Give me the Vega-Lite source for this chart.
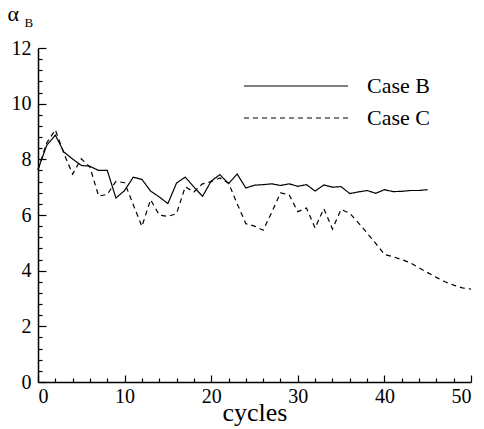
{
  "$schema": "https://vega.github.io/schema/vega-lite/v6.json",
  "width": 433,
  "height": 334,
  "autosize": {"type": "none"},
  "padding": {"left": 38, "top": 48, "right": 13, "bottom": 47},
  "background": "white",
  "config": {
    "view": {"stroke": null},
    "axis": {"grid": false, "domainColor": "black", "domainWidth": 1.5, "tickColor": "black", "tickWidth": 1.2, "labelFont": "Liberation Serif", "labelFontSize": 20, "labelColor": "black", "titleFont": "Liberation Serif", "titleColor": "black", "titleFontWeight": "normal", "labelOverlap": false},
    "legend": {"orient": "none", "title": null, "symbolType": "stroke", "symbolSize": 10816, "symbolStrokeWidth": 1.2, "symbolStrokeColor": "black", "labelFont": "Liberation Serif", "labelFontSize": 22, "labelColor": "black", "labelOffset": 18}
  },
  "data": {"values": [
    {"cycle":0,"alpha":7.63,"case":"Case B"},{"cycle":1,"alpha":8.5,"case":"Case B"},{"cycle":2,"alpha":8.87,"case":"Case B"},{"cycle":3,"alpha":8.26,"case":"Case B"},{"cycle":4,"alpha":8.01,"case":"Case B"},{"cycle":5,"alpha":7.78,"case":"Case B"},{"cycle":6,"alpha":7.75,"case":"Case B"},{"cycle":7,"alpha":7.6,"case":"Case B"},{"cycle":8,"alpha":7.6,"case":"Case B"},{"cycle":9,"alpha":6.61,"case":"Case B"},{"cycle":10,"alpha":6.88,"case":"Case B"},{"cycle":11,"alpha":7.36,"case":"Case B"},{"cycle":12,"alpha":7.28,"case":"Case B"},{"cycle":13,"alpha":6.86,"case":"Case B"},{"cycle":14,"alpha":6.65,"case":"Case B"},{"cycle":15,"alpha":6.41,"case":"Case B"},{"cycle":16,"alpha":7.15,"case":"Case B"},{"cycle":17,"alpha":7.36,"case":"Case B"},{"cycle":18,"alpha":7.01,"case":"Case B"},{"cycle":19,"alpha":6.67,"case":"Case B"},{"cycle":20,"alpha":7.22,"case":"Case B"},{"cycle":21,"alpha":7.45,"case":"Case B"},{"cycle":22,"alpha":7.13,"case":"Case B"},{"cycle":23,"alpha":7.47,"case":"Case B"},{"cycle":24,"alpha":6.97,"case":"Case B"},{"cycle":25,"alpha":7.07,"case":"Case B"},{"cycle":26,"alpha":7.09,"case":"Case B"},{"cycle":27,"alpha":7.12,"case":"Case B"},{"cycle":28,"alpha":7.06,"case":"Case B"},{"cycle":29,"alpha":7.12,"case":"Case B"},{"cycle":30,"alpha":7.03,"case":"Case B"},{"cycle":31,"alpha":7.09,"case":"Case B"},{"cycle":32,"alpha":6.86,"case":"Case B"},{"cycle":33,"alpha":7.08,"case":"Case B"},{"cycle":34,"alpha":7.0,"case":"Case B"},{"cycle":35,"alpha":7.02,"case":"Case B"},{"cycle":36,"alpha":6.77,"case":"Case B"},{"cycle":37,"alpha":6.83,"case":"Case B"},{"cycle":38,"alpha":6.88,"case":"Case B"},{"cycle":39,"alpha":6.78,"case":"Case B"},{"cycle":40,"alpha":6.91,"case":"Case B"},{"cycle":41,"alpha":6.84,"case":"Case B"},{"cycle":42,"alpha":6.85,"case":"Case B"},{"cycle":43,"alpha":6.88,"case":"Case B"},{"cycle":44,"alpha":6.88,"case":"Case B"},{"cycle":45,"alpha":6.91,"case":"Case B"},
    {"cycle":0,"alpha":7.63,"case":"Case C"},{"cycle":1,"alpha":8.59,"case":"Case C"},{"cycle":2,"alpha":9.06,"case":"Case C"},{"cycle":3,"alpha":8.2,"case":"Case C"},{"cycle":4,"alpha":7.47,"case":"Case C"},{"cycle":5,"alpha":8.02,"case":"Case C"},{"cycle":6,"alpha":7.72,"case":"Case C"},{"cycle":7,"alpha":6.68,"case":"Case C"},{"cycle":8,"alpha":6.74,"case":"Case C"},{"cycle":9,"alpha":7.21,"case":"Case C"},{"cycle":10,"alpha":7.16,"case":"Case C"},{"cycle":11,"alpha":6.37,"case":"Case C"},{"cycle":12,"alpha":5.59,"case":"Case C"},{"cycle":13,"alpha":6.55,"case":"Case C"},{"cycle":14,"alpha":6.0,"case":"Case C"},{"cycle":15,"alpha":5.95,"case":"Case C"},{"cycle":16,"alpha":6.05,"case":"Case C"},{"cycle":17,"alpha":7.01,"case":"Case C"},{"cycle":18,"alpha":6.83,"case":"Case C"},{"cycle":19,"alpha":7.12,"case":"Case C"},{"cycle":20,"alpha":7.2,"case":"Case C"},{"cycle":21,"alpha":7.33,"case":"Case C"},{"cycle":22,"alpha":7.15,"case":"Case C"},{"cycle":23,"alpha":6.4,"case":"Case C"},{"cycle":24,"alpha":5.69,"case":"Case C"},{"cycle":25,"alpha":5.6,"case":"Case C"},{"cycle":26,"alpha":5.45,"case":"Case C"},{"cycle":27,"alpha":6.1,"case":"Case C"},{"cycle":28,"alpha":6.79,"case":"Case C"},{"cycle":29,"alpha":6.73,"case":"Case C"},{"cycle":30,"alpha":6.12,"case":"Case C"},{"cycle":31,"alpha":6.25,"case":"Case C"},{"cycle":32,"alpha":5.53,"case":"Case C"},{"cycle":33,"alpha":6.23,"case":"Case C"},{"cycle":34,"alpha":5.5,"case":"Case C"},{"cycle":35,"alpha":6.2,"case":"Case C"},{"cycle":36,"alpha":6.06,"case":"Case C"},{"cycle":37,"alpha":5.72,"case":"Case C"},{"cycle":38,"alpha":5.35,"case":"Case C"},{"cycle":39,"alpha":4.98,"case":"Case C"},{"cycle":40,"alpha":4.58,"case":"Case C"},{"cycle":41,"alpha":4.5,"case":"Case C"},{"cycle":42,"alpha":4.4,"case":"Case C"},{"cycle":43,"alpha":4.28,"case":"Case C"},{"cycle":44,"alpha":4.1,"case":"Case C"},{"cycle":45,"alpha":3.93,"case":"Case C"},{"cycle":46,"alpha":3.76,"case":"Case C"},{"cycle":47,"alpha":3.6,"case":"Case C"},{"cycle":48,"alpha":3.48,"case":"Case C"},{"cycle":49,"alpha":3.38,"case":"Case C"},{"cycle":50,"alpha":3.34,"case":"Case C"}
  ]},
  "layer": [
    {
      "transform": [{"filter": "datum.case === 'Case B'"}],
      "mark": {"type": "line", "strokeWidth": 1.2, "color": "black"},
      "encoding": {
        "x": {"field": "cycle", "type": "quantitative", "scale": {"domain": [0, 50], "nice": false},
              "axis": {"orient": "bottom", "values": [0, 10, 20, 30, 40, 50], "tickSize": -7, "labelPadding": 11, "title": "cycles", "titleFontSize": 26, "titleY": 38, "titleBaseline": "alphabetic"}},
        "y": {"field": "alpha", "type": "quantitative", "scale": {"domain": [0, 12], "nice": false},
              "axis": {"orient": "left", "values": [0, 2, 4, 6, 8, 10, 12], "tickSize": -8, "labelPadding": 15, "title": "B", "titleAngle": 0, "titleFontSize": 13, "titleX": -14, "titleY": -22, "titleAlign": "left", "titleBaseline": "alphabetic"}},
        "strokeDash": {"field": "case", "type": "nominal",
              "scale": {"domain": ["Case B"], "range": [[1, 0]]},
              "legend": {"legendX": 205, "legendY": -15}}
      }
    },
    {
      "transform": [{"filter": "datum.case === 'Case C'"}],
      "mark": {"type": "line", "strokeWidth": 1.2, "strokeDash": [5, 4]},
      "encoding": {
        "x": {"field": "cycle", "type": "quantitative", "axis": null},
        "y": {"field": "alpha", "type": "quantitative", "axis": null},
        "color": {"field": "case", "type": "nominal",
              "scale": {"domain": ["Case C"], "range": ["black"]},
              "legend": {"legendX": 205, "legendY": 17, "symbolDash": [5, 4]}}
      }
    },
    {
      "mark": {"type": "line", "strokeOpacity": 0},
      "encoding": {
        "x": {"field": "cycle", "type": "quantitative",
              "axis": {"orient": "bottom", "values": [2,4,6,8,12,14,16,18,22,24,26,28,32,34,36,38,42,44,46,48], "tickSize": -4, "labels": false, "domain": false, "title": null}},
        "y": {"field": "alpha", "type": "quantitative",
              "axis": {"orient": "left", "values": [0.4,0.8,1.2,1.6,2.4,2.8,3.2,3.6,4.4,4.8,5.2,5.6,6.4,6.8,7.2,7.6,8.4,8.8,9.2,9.6,10.4,10.8,11.2,11.6], "tickSize": -4, "labels": false, "domain": false, "title": "α", "titleAngle": 0, "titleFontSize": 22, "titleX": -31, "titleY": -27.5, "titleAlign": "left", "titleBaseline": "alphabetic"}},
        "detail": {"field": "case", "type": "nominal"}
      }
    }
  ],
  "resolve": {"axis": {"x": "independent", "y": "independent"}}
}
